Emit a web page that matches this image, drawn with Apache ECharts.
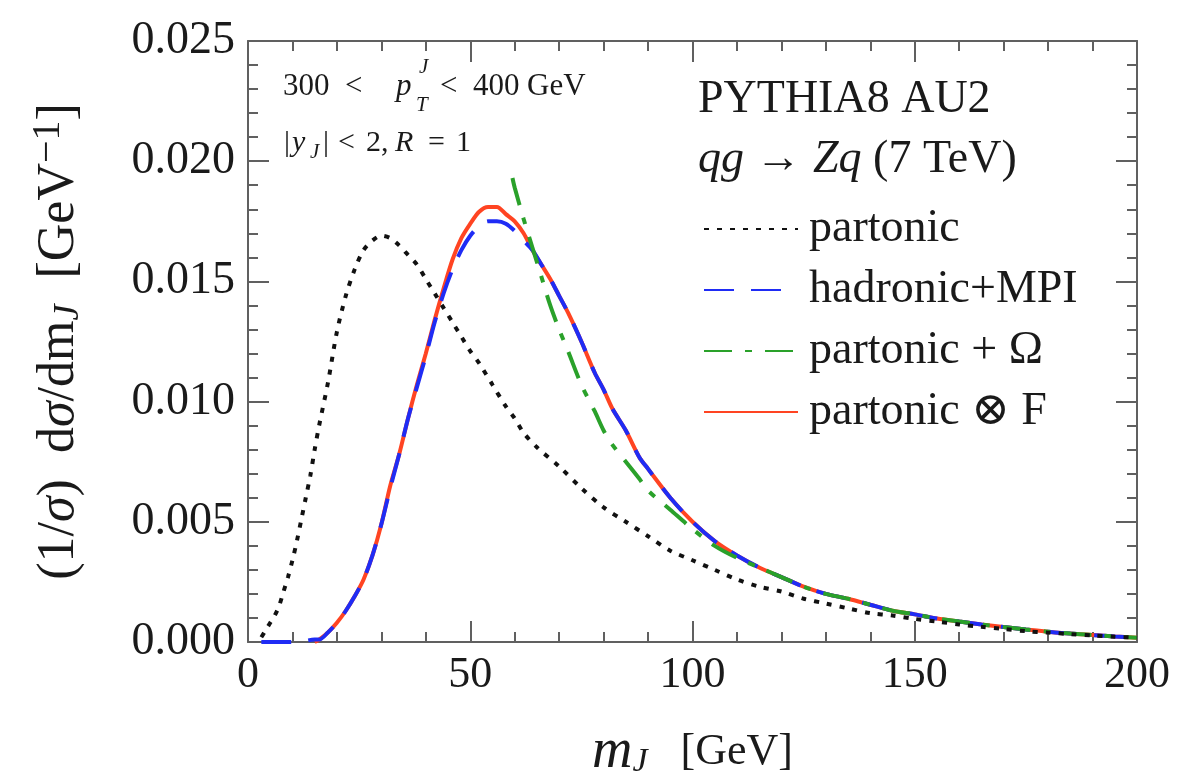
<!DOCTYPE html>
<html>
<head>
<meta charset="utf-8">
<script src="https://cdn.jsdelivr.net/npm/echarts@6/dist/echarts.min.js"></script>
<style>
  html, body { margin: 0; padding: 0; background: #fff; }
  #chart { width: 1189px; height: 779px; }
</style>
</head>
<body>
<div id="chart"></div>
<script>
// values
var partonicX = [3, 4, 5, 6, 7, 8, 9, 10, 11, 12, 13, 14, 15, 16, 18, 20, 22, 24, 26, 28, 30, 32, 34, 36, 38, 40, 42, 44, 46, 48, 50, 52, 55, 58, 60, 62, 65, 70, 75, 80, 85, 90, 95, 100, 105, 110, 115, 120, 125, 130, 135, 140, 145, 150, 155, 160, 165, 170, 175, 180, 185, 190, 195, 200];
var partonicY = [0.0002, 0.0005, 0.0008, 0.0011, 0.0015, 0.0021, 0.0027, 0.0034, 0.0042, 0.0051, 0.0060, 0.0069, 0.0080, 0.0090, 0.0108, 0.0129, 0.0144, 0.0155, 0.0163, 0.0167, 0.0169, 0.0168, 0.0165, 0.0161, 0.0157, 0.0151, 0.0145, 0.0139, 0.0133, 0.0127, 0.0121, 0.0116, 0.0107, 0.0098, 0.0093, 0.0087, 0.0081, 0.0073, 0.0064, 0.0056, 0.0050, 0.0044, 0.0038, 0.0034, 0.0030, 0.0026, 0.0023, 0.0021, 0.0018, 0.0016, 0.0014, 0.0012, 0.0011, 0.00096, 0.00085, 0.00073, 0.00063, 0.00054, 0.00045, 0.00039, 0.00033, 0.00027, 0.00022, 0.00018];

var hadronicX = [3, 6, 9, 12, 15, 16, 18, 20, 22, 24, 26, 28, 30, 32, 34, 36, 38, 40, 42, 44, 46, 48, 50, 52, 54, 56, 58, 60, 62, 64, 66, 68, 70, 72, 75, 78, 80, 82, 85, 88, 90, 95, 100, 105, 110, 115, 120, 125, 130, 135, 140, 145, 150, 155, 160, 165, 170, 175, 180, 185, 190, 195, 200];
var hadronicY = [0, 0, 0, 0.00002, 0.0001, 0.0001, 0.0004, 0.0008, 0.0013, 0.0019, 0.0026, 0.0036, 0.0049, 0.0064, 0.0078, 0.0093, 0.0106, 0.0119, 0.0133, 0.0145, 0.0155, 0.0163, 0.0169, 0.0173, 0.0175, 0.0175, 0.0174, 0.0171, 0.0167, 0.0163, 0.0157, 0.0151, 0.0144, 0.0137, 0.0125, 0.0112, 0.0105, 0.0097, 0.0088, 0.0077, 0.0072, 0.0060, 0.0050, 0.0042, 0.0036, 0.0031, 0.0027, 0.0023, 0.0020, 0.0018, 0.00155, 0.0013, 0.00115, 0.00098, 0.00085, 0.00073, 0.00062, 0.00052, 0.00043, 0.00035, 0.00029, 0.00023, 0.00018];

var omegaX = [59.5, 60, 62, 64, 66, 68, 70, 72, 75, 78, 80, 82, 85, 88, 90, 95, 100, 105, 110, 115, 120, 125, 130, 135, 140, 145, 150, 155, 160, 165, 170, 175, 180, 185, 190, 195, 200];
var omegaY = [0.0193, 0.0189, 0.0176, 0.0164, 0.0152, 0.0140, 0.0130, 0.0121, 0.0107, 0.0096, 0.0088, 0.0082, 0.0075, 0.0068, 0.0063, 0.0055, 0.0047, 0.0040, 0.0035, 0.0031, 0.0027, 0.0023, 0.0020, 0.0018, 0.00155, 0.0013, 0.00115, 0.00098, 0.00085, 0.00073, 0.00062, 0.00052, 0.00043, 0.00035, 0.00029, 0.00023, 0.00018];

var foldX = [15, 16, 18, 20, 22, 24, 26, 28, 30, 32, 34, 36, 38, 40, 42, 44, 46, 48, 50, 52, 54, 56, 58, 60, 62, 64, 66, 68, 70, 72, 75, 78, 80, 82, 85, 88, 90, 95, 100, 105, 110, 115, 120, 125, 130, 135, 140, 145, 150, 155, 160, 165, 170, 175, 180, 185, 190, 195, 200];
var foldY = [0.0000, 0.0001, 0.0004, 0.0008, 0.0013, 0.0019, 0.0026, 0.0036, 0.0049, 0.0065, 0.0078, 0.0093, 0.0107, 0.0120, 0.0134, 0.0147, 0.0159, 0.0168, 0.0174, 0.0179, 0.0181, 0.0181, 0.0178, 0.0175, 0.0170, 0.0163, 0.0157, 0.0151, 0.0144, 0.0137, 0.0125, 0.0112, 0.0105, 0.0097, 0.0088, 0.0077, 0.0072, 0.0060, 0.0050, 0.0042, 0.0036, 0.0031, 0.0027, 0.0023, 0.0020, 0.0018, 0.00155, 0.0013, 0.00115, 0.00098, 0.00085, 0.00073, 0.00062, 0.00052, 0.00043, 0.00035, 0.00029, 0.00023, 0.00018];

var seriesNames = ['partonic', 'hadronic+MPI', 'partonic + \u03a9', 'partonic \u2297 F'];

function pairs(xs, ys) {
    return xs.map(function (x, i) { return [x, ys[i]]; });
}

var serif = '"Liberation Serif", "DejaVu Serif", serif';
var ink = '#1a1a1a';
var frame = '#606060';

var myChart = echarts.init(document.getElementById('chart'));

// plain text piece placed inside the plot
function txt(str, left, top, size, italic) {
    return {
        type: 'text', left: left, top: top,
        style: { text: str, font: (italic ? 'italic ' : '') + size + 'px ' + serif, fill: ink }
    };
}

function mirrorAxis(pos) {
    return {
        type: 'value',
        position: pos,
        min: 0,
        max: pos == 'top' ? 200 : 0.025,
        interval: pos == 'top' ? 50 : 0.005,
        axisLine: { show: true, onZero: false, lineStyle: { color: frame, width: 2 } },
        axisTick: { show: true, inside: true, length: 21, lineStyle: { color: frame, width: 2 } },
        minorTick: { show: true, splitNumber: 5, length: 10, lineStyle: { color: frame, width: 2 } },
        axisLabel: { show: false },
        splitLine: { show: false }
    };
}

var option = {
    backgroundColor: '#fff',
    animation: false,
    grid: { left: 248, right: 52, top: 41, bottom: 137, outerBoundsMode: 'none', containLabel: false },
    legend: {
        orient: 'vertical',
        left: 698,
        top: 201,
        itemWidth: 94,
        itemHeight: 14,
        itemGap: 15,
        data: seriesNames,
        itemStyle: { opacity: 0 },
        textStyle: { fontFamily: serif, fontSize: 46, color: ink, lineHeight: 40, padding: [0, 0, 0, 6] }
    },
    xAxis: [{
        type: 'value',
        min: 0,
        max: 200,
        interval: 50,
        name: '{m|m}{sub|J}\u2002 [GeV]',
        nameLocation: 'middle',
        nameGap: 82,
        nameTextStyle: {
            fontFamily: serif, fontSize: 44, color: ink,
            rich: {
                m: { fontStyle: 'italic', fontFamily: serif, fontSize: 56 },
                sub: { fontStyle: 'italic', fontFamily: serif, fontSize: 34, padding: [20, 0, 0, 0] }
            }
        },
        axisLine: { show: true, onZero: false, lineStyle: { color: frame, width: 2 } },
        axisTick: { show: true, inside: true, length: 21, lineStyle: { color: frame, width: 2 } },
        minorTick: { show: true, splitNumber: 5, length: 10, lineStyle: { color: frame, width: 2 } },
        axisLabel: { fontFamily: serif, fontSize: 44, color: ink, margin: 11 },
        splitLine: { show: false }
    }, mirrorAxis('top')],
    yAxis: [{
        type: 'value',
        min: 0,
        max: 0.025,
        interval: 0.005,
        name: '(1/{i|\u03c3})\u2002d{i|\u03c3}/dm{sub|J}\u2002[GeV{sup|\u22121}]',
        nameLocation: 'middle',
        nameRotate: 90,
        nameGap: 158,
        nameTextStyle: {
            fontFamily: serif, fontSize: 52, color: ink,
            rich: {
                i: { fontStyle: 'italic', fontFamily: serif, fontSize: 52 },
                sub: { fontStyle: 'italic', fontFamily: serif, fontSize: 36, padding: [20, 0, 0, 0] },
                sup: { fontFamily: serif, fontSize: 40, padding: [0, 0, 22, 0] }
            }
        },
        axisLine: { show: true, onZero: false, lineStyle: { color: frame, width: 2 } },
        axisTick: { show: true, inside: true, length: 21, lineStyle: { color: frame, width: 2 } },
        minorTick: { show: true, splitNumber: 5, length: 10, lineStyle: { color: frame, width: 2 } },
        axisLabel: {
            fontFamily: serif, fontSize: 46, color: ink, margin: 13,
            formatter: function (v) { return v.toFixed(3); }
        },
        splitLine: { show: false }
    }, mirrorAxis('right')],
    graphic: [
        // 300 < pT^J < 400 GeV
        txt('300', 283, 71, 31),
        txt('<', 345, 71, 31),
        txt('p', 396, 71, 31, true),
        txt('T', 416, 95, 21, true),
        txt('J', 419, 57, 21, true),
        txt('<', 440, 71, 31),
        txt('400', 473, 71, 31),
        txt('GeV', 527, 71, 31),
        // |yJ| < 2, R = 1
        txt('|', 284, 128, 30),
        txt('y', 292, 128, 30, true),
        txt('J', 310, 142, 21, true),
        txt('|', 323, 128, 30),
        txt('<', 338, 128, 30),
        txt('2,', 366, 128, 30),
        txt('R', 395, 128, 30, true),
        txt('=', 428, 128, 30),
        txt('1', 456, 128, 30),
        txt('PYTHIA8 AU2', 698, 77, 46),
        {
            type: 'text', left: 698, top: 137,
            style: {
                text: '{i|qg} \u2192 {i|Zq} (7 TeV)', font: '46px ' + serif, fill: ink,
                rich: { i: { fontStyle: 'italic', fontFamily: serif, fontSize: 46 } }
            }
        }
    ],
    series: [{
        name: seriesNames[0],
        type: 'line',
        data: pairs(partonicX, partonicY),
        symbol: 'none',
        smooth: 0.3,
        z: 5,
        itemStyle: { color: '#111' },
        lineStyle: { color: '#111', width: 4, type: [5, 8] }
    }, {
        name: seriesNames[1],
        type: 'line',
        data: pairs(hadronicX, hadronicY),
        symbol: 'none',
        smooth: 0.3,
        z: 4,
        itemStyle: { color: '#1f2cf5' },
        lineStyle: { color: '#1f2cf5', width: 4, type: [30, 17] }
    }, {
        name: seriesNames[2],
        type: 'line',
        data: pairs(omegaX, omegaY),
        symbol: 'none',
        smooth: 0.3,
        z: 4,
        itemStyle: { color: '#2aa12a' },
        lineStyle: { color: '#2aa12a', width: 4, type: [28, 13, 7, 13] }
    }, {
        name: seriesNames[3],
        type: 'line',
        data: pairs(foldX, foldY),
        symbol: 'none',
        smooth: 0.3,
        z: 3,
        itemStyle: { color: '#ff4422' },
        lineStyle: { color: '#ff4422', width: 4 }
    }]
};

myChart.setOption(option);
</script>
</body>
</html>
